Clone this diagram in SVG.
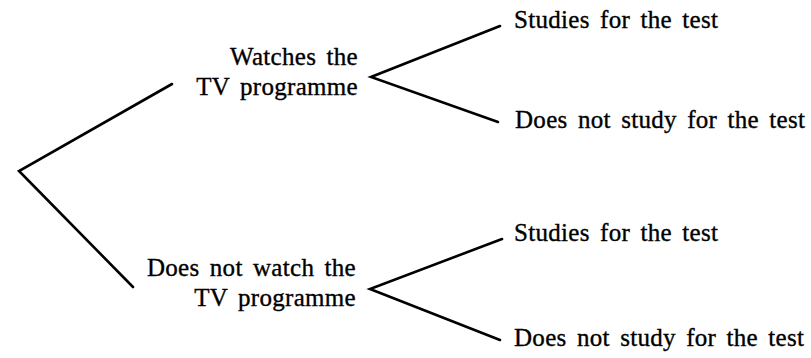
<svg xmlns="http://www.w3.org/2000/svg" width="811" height="358" viewBox="0 0 811 358">
  <style>
    .bg { fill: #ffffff; }
    .lbl { font-family: "Liberation Serif", "Times New Roman", serif; font-size: 25px; fill: #000000; stroke: #000000; stroke-width: 0.35; letter-spacing: 0.3px; word-spacing: 3.8px; }
    .end { text-anchor: end; }
    .edge { fill: none; stroke: #000000; stroke-width: 2.6; stroke-linecap: round; stroke-linejoin: miter; }
  </style>
  <rect class="bg" x="0" y="0" width="811" height="358"/>

  <g id="connectors">
    <path class="edge" d="M172,84 L19,171 L133,287"/>
    <path class="edge" d="M500,26 L371,77 L498,122"/>
    <path class="edge" d="M502,239 L370,289 L500,340"/>
  </g>

  <g id="root"></g>

  <g id="watches">
    <text class="lbl end" x="358" y="65">Watches the</text>
    <text class="lbl end" x="358" y="95">TV programme</text>
  </g>

  <g id="not-watch">
    <text class="lbl end" x="356" y="276">Does not watch the</text>
    <text class="lbl end" x="356" y="306">TV programme</text>
  </g>

  <g id="watches-studies">
    <text class="lbl" x="514" y="28">Studies for the test</text>
  </g>

  <g id="watches-no-study">
    <text class="lbl" x="515" y="128">Does not study for the test</text>
  </g>

  <g id="not-watch-studies">
    <text class="lbl" x="514" y="241">Studies for the test</text>
  </g>

  <g id="not-watch-no-study">
    <text class="lbl" x="514" y="346">Does not study for the test</text>
  </g>
</svg>
